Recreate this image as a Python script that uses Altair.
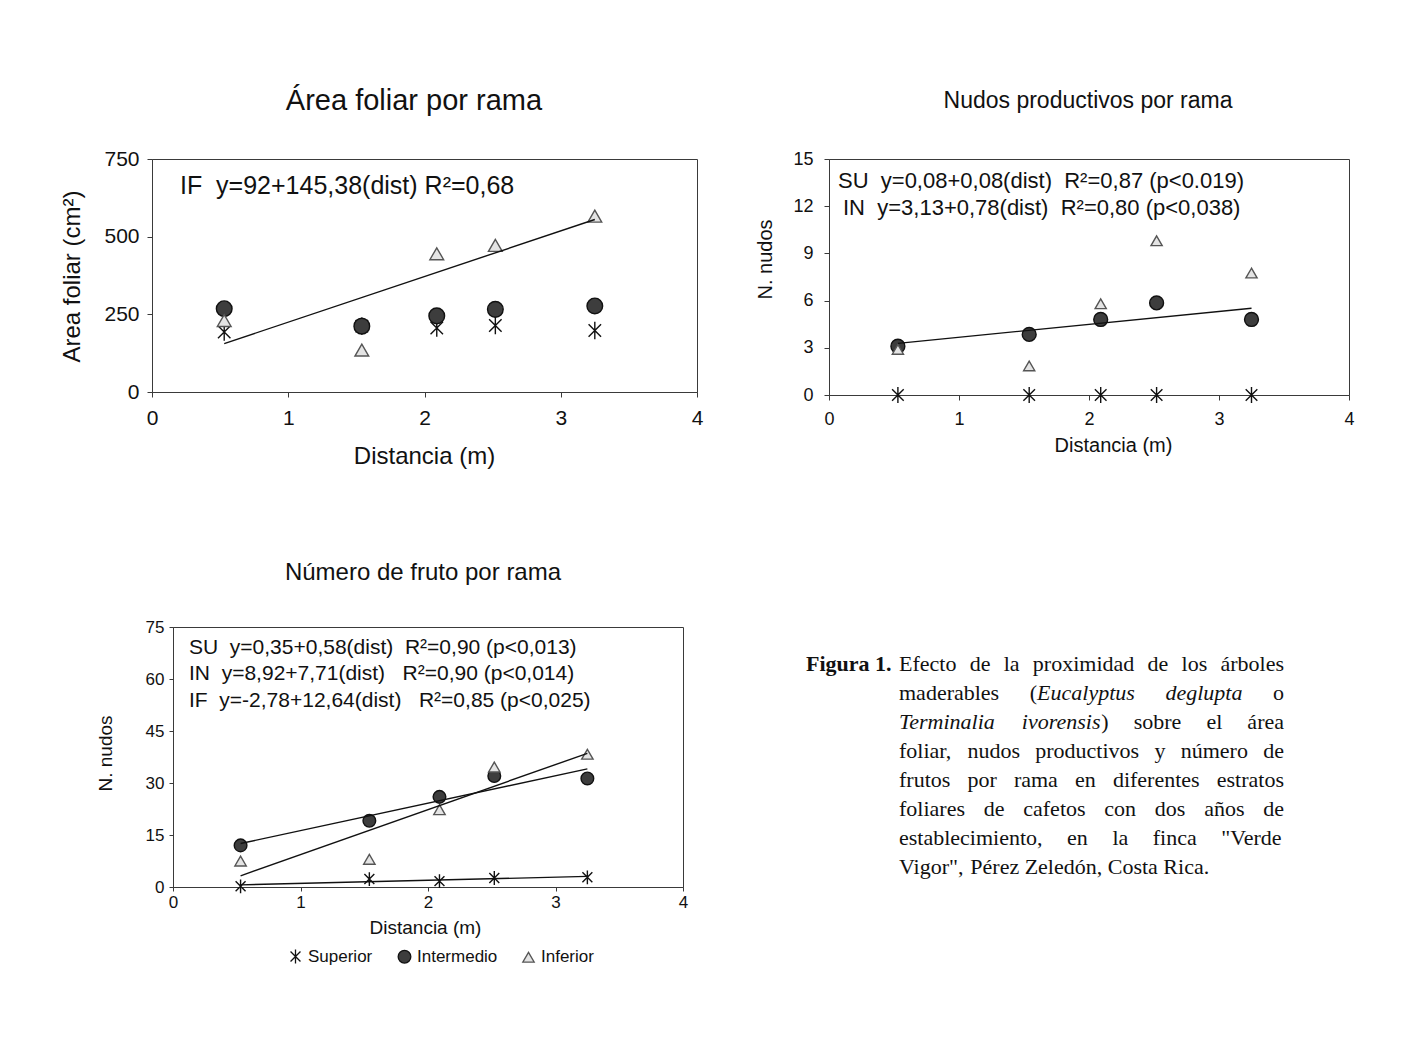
import altair as alt
import pandas as pd

# ---------------- data ----------------
dist = [0.53, 1.54, 2.09, 2.52, 3.25]
series = ["Superior", "Intermedio", "Inferior"]

area_sup = [193, 212, 206, 214, 198]
area_int = [268, 212, 245, 266, 277]
area_inf = [230, 135, 445, 472, 566]

nudos_sup = [0, 0, 0, 0, 0]
nudos_int = [3.1, 3.85, 4.8, 5.85, 4.8]
nudos_inf = [2.9, 1.85, 5.8, 9.8, 7.75]

fruto_sup = [0.2, 2.3, 1.7, 2.6, 2.8]
fruto_int = [12.0, 19.1, 26.0, 32.0, 31.3]
fruto_inf = [7.5, 8.0, 22.3, 34.6, 38.3]

x_ticks = [0, 1, 2, 3, 4]
area_ticks = [0, 250, 500, 750]
nudos_ticks = [0, 3, 6, 9, 12, 15]
fruto_ticks = [0, 15, 30, 45, 60, 75]

titles = ["Área foliar por rama", "Nudos productivos por rama", "Número de fruto por rama"]
ytitles = ["Area foliar (cm²)", "N. nudos", "N. nudos"]
xtitle = "Distancia (m)"

NB = "\u00a0"
eq_area = ["IF" + NB * 2 + "y=92+145,38(dist) R²=0,68"]
eq_nudos = ["SU" + NB * 2 + "y=0,08+0,08(dist)" + NB * 2 + "R²=0,87 (p<0.019)",
            "IN" + NB * 2 + "y=3,13+0,78(dist)" + NB * 2 + "R²=0,80 (p<0,038)"]
eq_fruto = ["SU" + NB * 2 + "y=0,35+0,58(dist)" + NB * 2 + "R²=0,90 (p<0,013)",
            "IN" + NB * 2 + "y=8,92+7,71(dist)" + NB * 3 + "R²=0,90 (p<0,014)",
            "IF" + NB * 2 + "y=-2,78+12,64(dist)" + NB * 3 + "R²=0,85 (p<0,025)"]

caption_label = "Figura 1."
caption_lines = [
    "Efecto de la proximidad de los árboles",
    "maderables (_Eucalyptus deglupta_ o",
    "_Terminalia ivorensis_) sobre el área",
    "foliar, nudos productivos y número de",
    "frutos por rama en diferentes estratos",
    "foliares de cafetos con dos años de",
    "establecimiento, en la finca \"Verde",
    "Vigor\", Pérez Zeledón, Costa Rica.",
]

# ---------------- style ----------------
FONT = "Liberation Sans"
SERIF = "Liberation Serif"
INK = "#111111"
FRAME = "#3a3a3a"
STAR = "M0,-1L0,1M-0.72,-0.72L0.72,0.72M-0.72,0.72L0.72,-0.72"
IND = dict(shape="independent", fill="independent", stroke="independent", size="independent")


def label(text, x, y, fs, align="left"):
    return alt.Chart(pd.DataFrame({"t": [text]})).mark_text(
        font=FONT, fontSize=fs, align=align, baseline="middle", color=INK
    ).encode(text="t:N", x=alt.value(x), y=alt.value(y))


def panel(vals, ticks, regs, title, ytitle, eqs, L, legend=False):
    df = pd.DataFrame({
        "dist": dist * 3,
        "val": vals[0] + vals[1] + vals[2],
        "serie": [s for s in series for _ in dist],
    })
    X = alt.X("dist:Q", scale=alt.Scale(domain=[x_ticks[0], x_ticks[-1]], nice=False),
              axis=alt.Axis(values=x_ticks, format="d", title=xtitle, grid=False, labelFlush=False,
                            labelFontSize=L["tick"], labelPadding=L["xpad"], tickSize=L["ticksize"],
                            titleFontSize=L["axt"], titleX=L["xtx"], titleY=L["xty"],
                            titleBaseline="middle", titleAlign="center", titleFontWeight="normal"))
    Y = alt.Y("val:Q", scale=alt.Scale(domain=[ticks[0], ticks[-1]], nice=False),
              axis=alt.Axis(values=ticks, title=ytitle, grid=False,
                            labelFontSize=L["tick"], labelPadding=L["ypad"], tickSize=L["ticksize"],
                            titleFontSize=L["axt"], titleX=L["ytx"], titleY=L["yty"], titleAngle=270,
                            titleBaseline="middle", titleAlign="center", titleFontWeight="normal"))
    if legend:
        leg = alt.Legend(orient="none", legendX=L["legx"], legendY=L["legy"], direction="horizontal",
                         title=None, labelFont=FONT, labelFontSize=L["legfs"], labelColor=INK,
                         symbolStrokeWidth=1.3, columnPadding=22, labelOffset=4)
    else:
        leg = None
    pts = alt.Chart(df).mark_point(opacity=1, strokeWidth=1.4).encode(
        x=X, y=Y,
        shape=alt.Shape("serie:N", scale=alt.Scale(domain=series, range=[STAR, "circle", "triangle-up"]), legend=leg),
        fill=alt.Fill("serie:N", scale=alt.Scale(domain=series, range=["transparent", "#3d3d3d", "#e4e4e4"]), legend=leg),
        stroke=alt.Stroke("serie:N", scale=alt.Scale(domain=series, range=["#111111", "#111111", "#555555"]), legend=leg),
        size=alt.Size("serie:N", scale=alt.Scale(domain=series, range=L["sizes"]), legend=leg),
    )
    layers = [pts]
    for s in regs:
        layers.append(
            alt.Chart(df).transform_filter(alt.datum.serie == s)
            .transform_regression("dist", "val")
            .mark_line(color=INK, strokeWidth=1.4)
            .encode(x=X, y=Y)
        )
    layers.append(label(title, L["tx"], L["ty"], L["tfs"], align="center"))
    for i, e in enumerate(eqs):
        layers.append(label(e, L["eqx"][i], L["eqy"][i], L["eqfs"]))
    return alt.layer(*layers).properties(
        width=L["w"], height=L["h"], view=alt.ViewBackground(stroke=FRAME, strokeWidth=1)
    )


L1 = dict(w=545, h=233, tick=21, xpad=10, ypad=8, ticksize=5, axt=24, xtx=272, xty=64, ytx=-80, yty=117,
          tx=262, ty=-58, tfs=29, eqx=[28], eqy=[27], eqfs=25, sizes=[300, 190, 60])
L2 = dict(w=520, h=236, tick=18, xpad=10, ypad=11, ticksize=5, axt=20, xtx=284, xty=50, ytx=-64, yty=100,
          tx=259, ty=-58, tfs=23, eqx=[9, 14], eqy=[22, 49], eqfs=22, sizes=[260, 125, 50])
L3 = dict(w=510, h=260, tick=17, xpad=3, ypad=5, ticksize=4, axt=19, xtx=252, xty=40, ytx=-68, yty=126,
          tx=250, ty=-54, tfs=24, eqx=[16, 16, 16], eqy=[21, 47, 74], eqfs=21, sizes=[190, 130, 50],
          legx=114, legy=321, legfs=17)

p1 = panel([area_sup, area_int, area_inf], area_ticks, ["Inferior"], titles[0], ytitles[0], eq_area, L1)
p2 = panel([nudos_sup, nudos_int, nudos_inf], nudos_ticks, ["Intermedio"], titles[1], ytitles[1], eq_nudos, L2)
p3 = panel([fruto_sup, fruto_int, fruto_inf], fruto_ticks, ["Superior", "Intermedio", "Inferior"],
           titles[2], ytitles[2], eq_fruto, L3, legend=True)

# ---------------- caption (justified text) ----------------
TR = {' ': 250, '!': 333, '"': 408, '(': 333, ')': 333, ',': 250, '-': 333, '.': 250,
      'A': 722, 'B': 667, 'C': 667, 'D': 722, 'E': 611, 'F': 556, 'G': 722, 'H': 722, 'I': 333, 'J': 389,
      'K': 722, 'L': 611, 'M': 889, 'N': 722, 'O': 722, 'P': 556, 'Q': 722, 'R': 667, 'S': 556, 'T': 611,
      'U': 722, 'V': 722, 'W': 944, 'X': 722, 'Y': 722, 'Z': 611,
      'a': 444, 'b': 500, 'c': 444, 'd': 500, 'e': 444, 'f': 333, 'g': 500, 'h': 500, 'i': 278, 'j': 278,
      'k': 500, 'l': 278, 'm': 778, 'n': 500, 'o': 500, 'p': 500, 'q': 500, 'r': 333, 's': 389, 't': 278,
      'u': 500, 'v': 500, 'w': 722, 'x': 500, 'y': 500, 'z': 444,
      'á': 444, 'é': 444, 'í': 278, 'ó': 500, 'ú': 500, 'ñ': 500}
TI = {'a': 500, 'b': 500, 'c': 444, 'd': 500, 'e': 444, 'f': 278, 'g': 500, 'h': 500, 'i': 278, 'j': 278,
      'k': 444, 'l': 278, 'm': 722, 'n': 500, 'o': 500, 'p': 500, 'q': 500, 'r': 389, 's': 389, 't': 278,
      'u': 500, 'v': 444, 'w': 667, 'x': 444, 'y': 444, 'z': 389, 'E': 611, 'T': 556}
TB = {'F': 611, 'i': 278, 'g': 500, 'u': 556, 'r': 444, 'a': 500, ' ': 250, '1': 500, '.': 250}
for d in "0123456789":
    TR[d] = 500

CAP_FS = 22
CAP_W = 385
CAP_LH = 29
CAP_X0 = 98
CAP_Y0 = 37


def seg_width(text, style):
    table = TI if style == "i" else (TB if style == "b" else TR)
    return sum(table.get(ch, TR.get(ch, 500)) for ch in text) / 1000.0 * CAP_FS


rows = [dict(text=caption_label, px=5, py=CAP_Y0, style="b")]
italic = False
for li, line in enumerate(caption_lines):
    words = []
    for raw in line.split(" "):
        segs, buf = [], ""
        for ch in raw:
            if ch == "_":
                if buf:
                    segs.append((buf, "i" if italic else "n"))
                    buf = ""
                italic = not italic
            else:
                buf += ch
        if buf:
            segs.append((buf, "i" if italic else "n"))
        words.append(segs)
    wsum = sum(seg_width(t, s) for w in words for t, s in w)
    last = li == len(caption_lines) - 1
    gap = seg_width(" ", "n") if (last or len(words) < 2) else (CAP_W - wsum) / (len(words) - 1)
    x = CAP_X0
    for w in words:
        for t, s in w:
            rows.append(dict(text=t, px=round(x, 2), py=CAP_Y0 + li * CAP_LH, style=s))
            x += seg_width(t, s)
        x += gap
cap_df = pd.DataFrame(rows)

cap_layers = []
for style, kw in [("n", dict(fontStyle="normal")), ("i", dict(fontStyle="italic")), ("b", dict(fontWeight="bold"))]:
    cap_layers.append(
        alt.Chart(cap_df).transform_filter(alt.datum.style == style)
        .mark_text(font=SERIF, fontSize=CAP_FS, align="left", baseline="middle", color=INK, **kw)
        .encode(x=alt.X("px:Q", scale=None, axis=None), y=alt.Y("py:Q", scale=None, axis=None), text="text:N")
    )
caption = alt.layer(*cap_layers).properties(
    width=500, height=260, view=alt.ViewBackground(stroke="transparent")
)


def spacer(w):
    return alt.Chart(pd.DataFrame({"a": [0]})).mark_point(opacity=0).encode(
        x=alt.value(0), y=alt.value(0)
    ).properties(width=w, height=1, view=alt.ViewBackground(stroke="transparent"))


def ind(c):
    return c.resolve_scale(**IND).resolve_legend(**IND)


row1 = ind(alt.hconcat(spacer(5), ind(alt.hconcat(p1, p2, spacing=50)), spacing=0))
row2 = ind(alt.hconcat(spacer(41), ind(alt.hconcat(p3, caption, spacing=111)), spacing=0))

chart = ind(alt.vconcat(row1, row2, spacing=91)).properties(
    padding={"left": 41, "top": 78, "right": 5, "bottom": 50}
).configure(font=FONT).configure_axis(
    domainColor=FRAME, tickColor=FRAME, labelColor=INK, titleColor=INK, labelFont=FONT, titleFont=FONT
).configure_view(stroke=FRAME)

chart.save("out.html", embed_options={"renderer": "svg", "actions": False})
